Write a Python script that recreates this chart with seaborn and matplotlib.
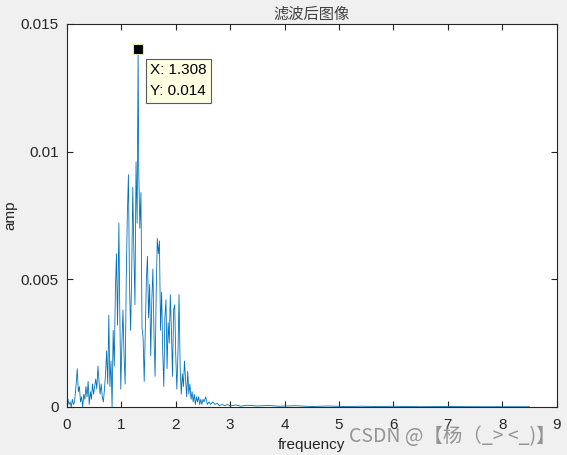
import matplotlib
matplotlib.use("Agg")
import matplotlib.pyplot as plt
import seaborn as sns
import pandas as pd

freq = [0.00, 0.02, 0.04, 0.06, 0.08, 0.10, 0.12, 0.14, 0.17, 0.19, 0.21, 0.23, 0.25, 0.27, 0.29,
        0.31, 0.33, 0.35, 0.37, 0.39, 0.41, 0.43, 0.45, 0.47, 0.49, 0.51, 0.53, 0.55, 0.57, 0.59,
        0.61, 0.63, 0.65, 0.67, 0.69, 0.71, 0.73, 0.75, 0.77, 0.79, 0.81, 0.83, 0.85, 0.87, 0.89,
        0.91, 0.93, 0.955, 0.97, 0.99, 1.01, 1.03, 1.05, 1.07, 1.09, 1.11, 1.13, 1.15, 1.17, 1.19,
        1.21, 1.23, 1.25, 1.27, 1.29, 1.308, 1.32, 1.34, 1.36, 1.38, 1.40, 1.42, 1.44, 1.46, 1.48,
        1.50, 1.52, 1.54, 1.56, 1.58, 1.60, 1.62, 1.64, 1.66, 1.68, 1.70, 1.72, 1.74, 1.76, 1.78,
        1.80, 1.82, 1.84, 1.86, 1.88, 1.90, 1.92, 1.94, 1.96, 1.98, 2.00, 2.02, 2.04, 2.06, 2.08,
        2.10, 2.12, 2.14, 2.16, 2.18, 2.20, 2.22, 2.24, 2.26, 2.28, 2.30, 2.32, 2.34, 2.36, 2.38,
        2.40, 2.42, 2.44, 2.46, 2.48, 2.50, 2.52, 2.55, 2.58, 2.61, 2.64, 2.68, 2.72, 2.76, 2.80,
        2.85, 2.90, 2.95, 3.00, 3.10, 3.20, 3.30, 3.50, 3.70, 3.90, 4.20, 4.50, 4.80, 5.10, 5.40,
        5.70, 6.00, 6.50, 7.00, 7.50, 8.00, 8.50]

amp = [0.0004, 0.0003, 0.0001, 0.0002, 0.0000, 0.0003, 0.0001, 0.0002, 0.0009, 0.0015, 0.0006, 0.0008, 0.0002, 0.0004, 0.0000,
       0.0005, 0.0003, 0.0008, 0.0004, 0.0010, 0.0001, 0.0006, 0.0003, 0.0009, 0.0005, 0.0008, 0.0011, 0.0007, 0.0016, 0.0010,
       0.0005, 0.0009, 0.0004, 0.0002, 0.0007, 0.0013, 0.0022, 0.0009, 0.0036, 0.0008, 0.0018, 0.0000, 0.0030, 0.0016, 0.0045,
       0.0060, 0.0032, 0.0072, 0.0040, 0.0007, 0.0025, 0.0038, 0.0020, 0.0009, 0.0050, 0.0075, 0.0091, 0.0048, 0.0030, 0.0052,
       0.0086, 0.0061, 0.0040, 0.0096, 0.0072, 0.0140, 0.0092, 0.0070, 0.0084, 0.0031, 0.0027, 0.0010, 0.0031, 0.0050, 0.0059,
       0.0035, 0.0048, 0.0020, 0.0042, 0.0054, 0.0028, 0.0012, 0.0044, 0.0066, 0.0060, 0.0065, 0.0030, 0.0045, 0.0022, 0.0008,
       0.0035, 0.0042, 0.0015, 0.0033, 0.0025, 0.0044, 0.0030, 0.0012, 0.0038, 0.0040, 0.0020, 0.0007, 0.0021, 0.0044, 0.0016,
       0.0005, 0.0013, 0.0008, 0.0018, 0.0011, 0.0004, 0.0014, 0.0005, 0.0009, 0.0003, 0.0006, 0.0002, 0.0005, 0.0001, 0.0004,
       0.0002, 0.0004, 0.0001, 0.0003, 0.0001, 0.0003, 0.0002, 0.0004, 0.0001, 0.0002, 0.0001, 0.0002, 0.0001, 0.00015, 0.00005,
       0.0001, 0.00005, 0.0001, 0.00004, 0.00008, 0.00003, 0.00007, 0.00004, 0.00006, 0.00003, 0.00005, 0.00002, 0.00004, 0.00002, 0.00003,
       0.00002, 0.00003, 0.00001, 0.00002, 0.00001, 0.00001, 0.00001]

xticks = [0, 1, 2, 3, 4, 5, 6, 7, 8, 9]
yticks = [0, 0.005, 0.01, 0.015]
ytick_labels = ["0", "0.005", "0.01", "0.015"]
peak_x, peak_y = 1.308, 0.014

sns.set_style("white")
plt.rcParams['font.family'] = ['Liberation Sans', 'Noto Sans CJK SC', 'DejaVu Sans']

fig = plt.figure(figsize=(5.67, 4.55), dpi=100)
fig.patch.set_facecolor('#f0f0f0')
ax = fig.add_axes([0.118, 0.1055, 0.864, 0.842])
ax.set_facecolor('white')

df = pd.DataFrame({"frequency": freq, "amp": amp})
sns.lineplot(data=df, x="frequency", y="amp", ax=ax, color='#0072BD', linewidth=0.6, estimator=None)

ax.set_xlim(0, 9)
ax.set_ylim(0, 0.015)
ax.set_xticks(xticks)
ax.set_xticklabels([str(t) for t in xticks])
ax.set_yticks(yticks)
ax.set_yticklabels(ytick_labels)
ax.tick_params(direction='in', length=4, width=0.8, colors='#262626', labelsize=11,
               top=True, right=True, bottom=True, left=True)
ax.tick_params(axis='x', pad=8)
ax.tick_params(axis='y', pad=6)
for s in ax.spines.values():
    s.set_color('#262626')
    s.set_linewidth(0.8)

ax.set_xlabel('frequency', fontsize=11, color='#262626', labelpad=4)
ax.set_ylabel('amp', fontsize=11, color='#262626', labelpad=2)
ax.set_title('滤波后图像', fontsize=11, color='#404040',
             family=['Noto Sans CJK SC', 'DejaVu Sans'], pad=4)

ax.plot([peak_x], [peak_y], marker='s', markersize=7, color='black',
        markeredgecolor='#e8e0b0', markeredgewidth=0.8, zorder=5)
ax.annotate('X: 1.308\nY: 0.014', xy=(peak_x, peak_y), xytext=(12, -14),
            textcoords='offset pixels', ha='left', va='top', fontsize=11,
            color='black', linespacing=1.6,
            bbox=dict(boxstyle='square,pad=0.3', facecolor='#ffffe1', edgecolor='#5a5a5a', linewidth=0.8),
            zorder=6)

fig.text(0.98, 0.04, 'CSDN @【杨（_> <_)】', ha='right', va='center', fontsize=14,
         color='#8a8a8a', alpha=0.9, family=['Noto Sans CJK SC', 'DejaVu Sans'])

fig.savefig('out.png', dpi=100, facecolor=fig.get_facecolor())
